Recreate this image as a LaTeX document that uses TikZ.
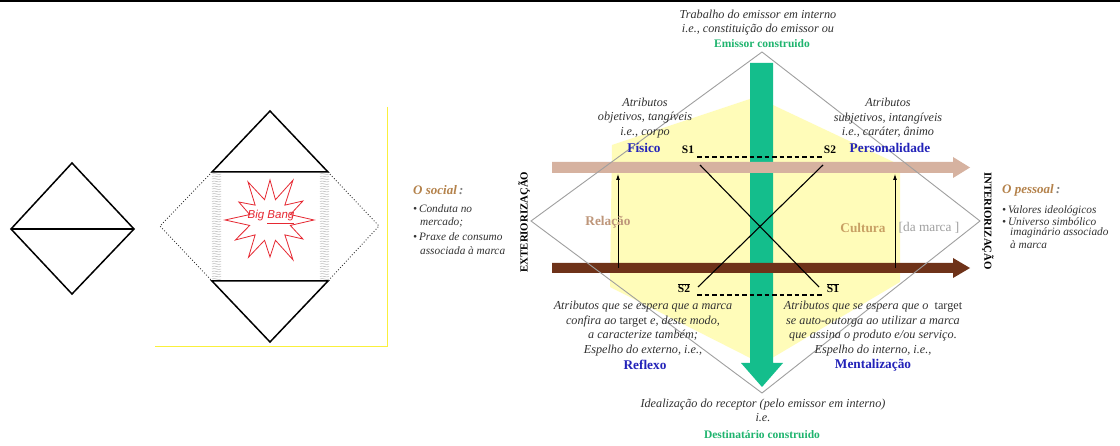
\documentclass[tikz,border=0pt]{standalone}
\usepackage{fontspec}
\setmainfont{Liberation Serif}
\setsansfont{Liberation Sans}
\usetikzlibrary{arrows.meta}
\definecolor{tanA}{RGB}{214,178,160}
\definecolor{brownA}{RGB}{110,50,25}
\definecolor{greenA}{RGB}{20,190,140}
\definecolor{yellowA}{RGB}{255,252,185}
\definecolor{blueA}{RGB}{35,35,185}
\definecolor{goldA}{RGB}{180,130,75}
\definecolor{relA}{RGB}{190,150,122}
\definecolor{culA}{RGB}{200,160,100}
\definecolor{grayT}{RGB}{50,50,50}
\definecolor{greenT}{RGB}{30,180,110}
\definecolor{bangC}{RGB}{230,40,50}
\definecolor{frameY}{RGB}{250,240,60}
\tikzset{
  itx/.style={font=\fontsize{12.2}{14.5}\selectfont\itshape, text=grayT, align=center, inner sep=0pt},
  sidetx/.style={font=\fontsize{11.3}{13}\selectfont\itshape, text=grayT, anchor=west, inner sep=0pt},
  blab/.style={font=\fontsize{13.3}{14}\selectfont\bfseries, text=blueA, inner sep=0pt},
  slab/.style={font=\fontsize{11.5}{13}\selectfont\bfseries, inner sep=0pt},
  glab/.style={font=\fontsize{11.5}{13}\selectfont\bfseries, text=greenT, inner sep=0pt},
  vlab/.style={font=\fontsize{10.8}{12}\selectfont\bfseries, inner sep=0pt},
  blk/.style={line width=1.5pt, black},
  dotl/.style={line width=0.9pt, dotted, black!80},
  dashl/.style={line width=1.3pt, dash pattern=on 4.5pt off 3pt},
}
\begin{document}
\begin{tikzpicture}[x=1pt,y=-1pt]
\useasboundingbox (0,0) rectangle (1120,446);
\fill[white] (0,0) rectangle (1120,446);
\fill[black] (0,0) rectangle (1120,2.3);

% ---------- figure 1 ----------
\coordinate (a1) at (72,163);
\coordinate (a2) at (134,229);
\coordinate (a3) at (72,294);
\coordinate (a4) at (11,229);
\draw[blk, line join=miter] (a1) -- (a2) -- (a3) -- (a4) -- cycle;
\draw[blk] (a4) -- (a2);

% ---------- figure 2 ----------
\coordinate (b1) at (270,111);
\coordinate (b2) at (328,172);
\coordinate (b3) at (379,226);
\coordinate (b4) at (328,281);
\coordinate (b5) at (270,342);
\coordinate (b6) at (212,281);
\coordinate (b7) at (160,226);
\coordinate (b8) at (212,172);
\foreach \yy in {174,176.5,...,279} {
  \draw[gray!55, line width=0.5pt] (212,\yy) .. controls (215,\yy-1.6) and (218,\yy+1.6) .. (221,\yy);
  \draw[gray!55, line width=0.5pt] (320,\yy) .. controls (323,\yy-1.6) and (326,\yy+1.6) .. (329,\yy);
}
\draw[blk] (b8) -- (b1) -- (b2) -- cycle;
\draw[blk] (b6) -- (b5) -- (b4) -- cycle;
\draw[dotl] (b8) -- (b7) -- (b6);
\draw[dotl] (b2) -- (b3) -- (b4);
\coordinate (bang) at (270,220);
\draw[bangC, line width=0.8pt, line join=miter]
  ([shift={(0:44)}]bang)
  \foreach \a/\r in {30/38,60/46,90/37,120/43,150/40,180/45,210/36,240/44,270/40,300/46,330/38} {
    -- ([shift={({\a-15}:21)}]bang) -- ([shift={(\a:\r)}]bang) }
  -- ([shift={(345:21)}]bang) -- cycle;
\node[font=\sffamily\itshape\fontsize{11.5}{13}\selectfont, text=bangC, inner sep=0pt] (bigbang) at (271,217) {Big \underline{Bang}};
\coordinate (fy1) at (387,107);
\coordinate (fy2) at (387,347);
\coordinate (fy3) at (155,347);
\draw[frameY, line width=1pt] (fy1) -- (fy2) -- (fy3);

% ---------- main figure ----------
\fill[yellowA] (612,145) -- (756,97) -- (900,165) -- (900,282) -- (762,364) -- (610,287) -- cycle;
% green arrow
\fill[greenA] (750,63) -- (773,63) -- (773,363) -- (783,363) -- (762,387) -- (741,363) -- (750,363) -- cycle;
% horizontal arrows
\fill[tanA] (552,162) -- (953,162) -- (953,157) -- (970,167.5) -- (953,178) -- (953,173) -- (552,173) -- cycle;
\fill[brownA] (552,263) -- (953,263) -- (953,258) -- (970,268) -- (953,278) -- (953,273) -- (552,273) -- cycle;
% diamond
\coordinate (dT) at (762,52);
\coordinate (dR) at (980,221);
\coordinate (dB) at (762,393);
\coordinate (dL) at (531,221);
\draw[gray!75, line width=0.9pt] (dT) -- (dR) -- (dB) -- (dL) -- cycle;
% thin vertical arrows
\coordinate (la0) at (618,268);
\coordinate (la1) at (618,174);
\coordinate (ra0) at (895,268);
\coordinate (ra1) at (895,174);
\draw[line width=0.8pt, -{Latex[length=6pt,width=4pt]}] (la0) -- (la1);
\draw[line width=0.8pt, -{Latex[length=6pt,width=4pt]}] (ra0) -- (ra1);
% X
\coordinate (s1) at (700,165);
\coordinate (s1b) at (819,287);
\coordinate (s2) at (823,165);
\coordinate (s2b) at (698,287);
\draw[line width=1.1pt] (s1) -- (s1b);
\draw[line width=1.1pt] (s2) -- (s2b);
\coordinate (dt1) at (697,157);
\coordinate (dt2) at (823,157);
\coordinate (db1) at (697,295);
\coordinate (db2) at (823,295);
\draw[dashl] (dt1) -- (dt2);
\draw[dashl] (db1) -- (db2);
\node[slab] (S1) at (688,150) {S1};
\node[slab] (S2) at (830,150) {S2};
\node[slab] (S2b) at (684,288) {$\overline{\mbox{S2}}$};
\node[slab] (S1b) at (833,288) {$\overline{\mbox{S1}}$};

% labels
\node[itx] (ttop) at (758,22.5) {Trabalho do emissor em interno\\i.e., constituição do emissor ou};
\node[glab] (emc) at (762,44) {Emissor construido};
\node[itx] (tbot) at (763,410.5) {Idealização do receptor (pelo emissor em interno)\\i.e.};
\node[glab] (dec) at (762,434.5) {Destinatário construido};

\node[itx] (aobj) at (645,118) {Atributos\\objetivos, tangíveis\\i.e., corpo};
\node[blab] (fis) at (644,148) {Físico};
\node[itx] (asub) at (888,118) {Atributos\\subjetivos, intangíveis\\i.e., caráter, ânimo};
\node[blab] (pers) at (890,148) {Personalidade};

\node[itx] (arefl) at (643,328.5) {Atributos que se espera que a marca\\confira ao {\upshape target} e, deste modo,\\a caracterize também;\\Espelho do externo, i.e.,};
\node[blab] (refl) at (645,365) {Reflexo};
\node[itx] (ament) at (873,328.5) {Atributos que se espera que o \ {\upshape target}\\se auto-outorga ao utilizar a marca\\que assina o produto e/ou serviço.\\Espelho do interno, i.e.,};
\node[blab] (ment) at (873,365) {Mentalização};

\node[font=\fontsize{13.3}{14}\selectfont\bfseries, text=relA, inner sep=0pt] (rel) at (608,222) {Relação};
\node[font=\fontsize{13.3}{14}\selectfont\bfseries, text=culA, inner sep=0pt] (cult) at (863,228) {Cultura};
\node[font=\fontsize{13.3}{14}\selectfont, text=gray!75, inner sep=0pt] (dam) at (929,228) {[da marca ]};

\node[vlab, rotate=90] (ext) at (524,222) {EXTERIORIZAÇÃO};
\node[vlab, rotate=-90] (int) at (988,221) {INTERIORIZAÇÃO};

\node[font=\fontsize{13}{14}\selectfont\bfseries\itshape, text=goldA, anchor=west, inner sep=0pt] (osoc) at (413,190) {O social\,{\color{gray}:}};
\node[sidetx] (c1) at (413,209) {\textbullet\,Conduta no};
\node[sidetx] (c2) at (420,222) {mercado;};
\node[sidetx] (c3) at (413,237) {\textbullet\,Praxe de consumo};
\node[sidetx] (c4) at (420,251) {associada à marca};

\node[font=\fontsize{13}{14}\selectfont\bfseries\itshape, text=goldA, anchor=west, inner sep=0pt] (opes) at (1002,190) {O pessoal\,{\color{gray}:}};
\node[sidetx] (p1) at (1002,211) {\textbullet\,Valores ideológicos};
\node[sidetx] (p2) at (1002,222) {\textbullet\,Universo simbólico};
\node[sidetx] (p3) at (1010,233) {imaginário associado};
\node[sidetx] (p4) at (1010,245) {à marca};
\end{tikzpicture}
\end{document}
